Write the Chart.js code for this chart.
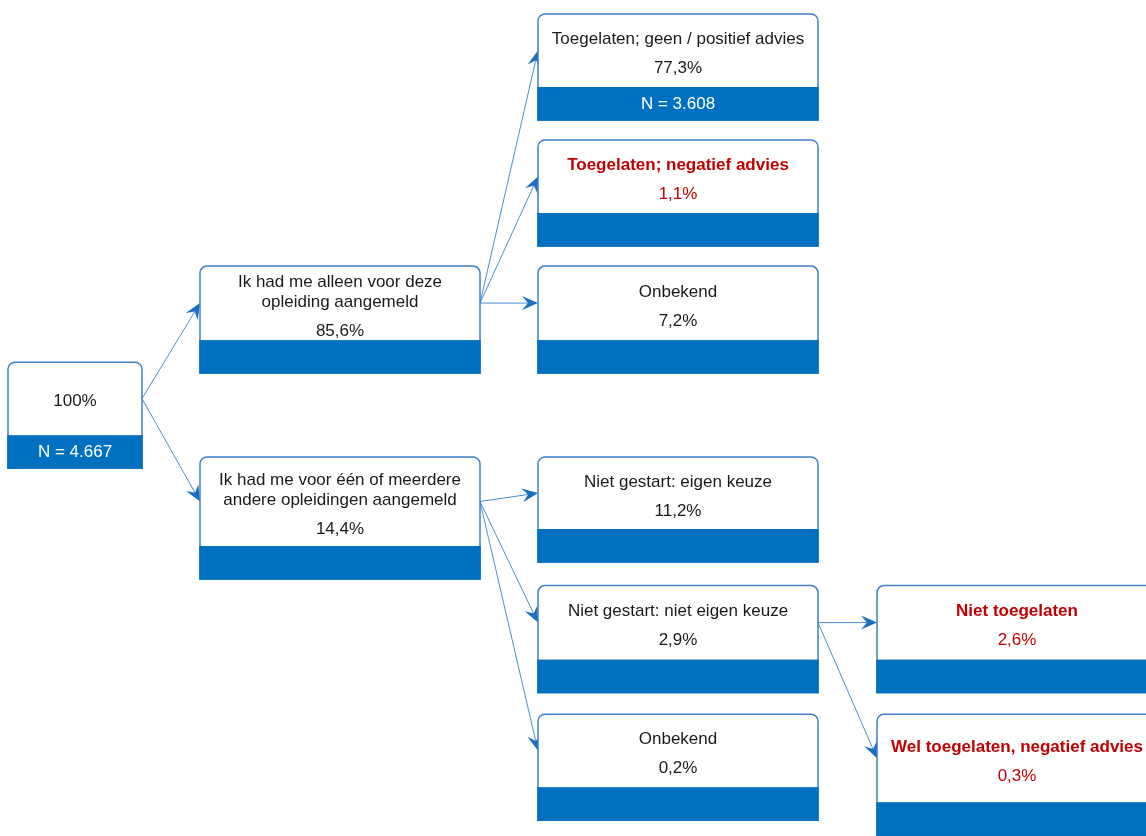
<!DOCTYPE html>
<html>
<head>
<meta charset="utf-8">
<script src="https://cdn.jsdelivr.net/npm/chart.js@4.4.1/dist/chart.umd.min.js"></script>
<style>
  html, body { margin: 0; padding: 0; background: #ffffff; }
  #wrap { width: 1146px; height: 836px; }
</style>
</head>
<body>
<div id="wrap"><canvas id="c" width="1146" height="836"></canvas></div>
<script>
// ---- data ----
const nodeLabels = [
  "",
  "Ik had me alleen voor deze\nopleiding aangemeld",
  "Ik had me voor één of meerdere\nandere opleidingen aangemeld",
  "Toegelaten; geen / positief advies",
  "Toegelaten; negatief advies",
  "Onbekend",
  "Niet gestart: eigen keuze",
  "Niet gestart: niet eigen keuze",
  "Onbekend",
  "Niet toegelaten",
  "Wel toegelaten, negatief advies"
];
const nodePercentages = ["100%", "85,6%", "14,4%", "77,3%", "1,1%", "7,2%", "11,2%", "2,9%", "0,2%", "2,6%", "0,3%"];
const nodeCounts = ["N = 4.667", "", "", "N = 3.608", "", "", "", "", "", "", ""];
const nodeParents = [null, 0, 0, 1, 1, 1, 2, 2, 2, 7, 7];
const nodeLevels = [0, 1, 1, 2, 2, 2, 2, 2, 2, 3, 3];
const nodeRows = [2.735, 1.98, 3.48, 0, 0.99, 1.98, 3.48, 4.49, 5.5, 4.49, 5.5];
const nodeNegative = [false, false, false, false, true, false, false, false, false, true, true];

// ---- layout / style (not data) ----
const layout = {
  colLeft: [8, 200, 538, 877],
  colWidth: [134, 280, 280, 280],
  bodyHeight: [73, 74, 89, 73, 73, 74, 72, 74, 73, 74, 88],
  bandHeight: 33,
  radius: 7,
  lineGap: 20,
  pctGap: 29
};
const colors = {
  border: '#3F7FCB',
  band: '#0070C0',
  line: '#4A8FD4',
  arrow: '#1B6EC2',
  text: '#1a1a1a',
  red: '#C00000'
};
const FONT = '"Liberation Sans", Arial, sans-serif';
const FSIZE = 17;

const points = nodeLevels.map((lv, i) => ({
  x: layout.colLeft[lv] + layout.colWidth[lv] / 2,
  y: nodeRows[i]
}));

function arrowHead(ctx, x1, y1, x2, y2) {
  const ang = Math.atan2(y2 - y1, x2 - x1);
  const L = 16, W = 7, notch = 10;
  ctx.save();
  ctx.translate(x2, y2);
  ctx.rotate(ang);
  ctx.beginPath();
  ctx.moveTo(0, 0);
  ctx.lineTo(-L, -W);
  ctx.lineTo(-notch, 0);
  ctx.lineTo(-L, W);
  ctx.closePath();
  ctx.fillStyle = colors.arrow;
  ctx.fill();
  ctx.restore();
}

const treePlugin = {
  id: 'tree',
  afterDatasetsDraw(chart) {
    const ctx = chart.ctx;
    const xs = chart.scales.x, ys = chart.scales.y;
    const boxes = points.map((p, i) => {
      const lv = nodeLevels[i];
      const w = layout.colWidth[lv];
      const cx = xs.getPixelForValue(p.x);
      const top = ys.getPixelForValue(p.y);
      const bh = layout.bodyHeight[i];
      return { left: cx - w / 2, right: cx + w / 2, top, body: bh, bottom: top + bh + layout.bandHeight, mid: top + bh / 2 };
    });

    // connectors
    nodeParents.forEach((par, i) => {
      if (par === null) return;
      const a = boxes[par], b = boxes[i];
      const x1 = a.right, y1 = a.mid, x2 = b.left, y2 = b.mid;
      ctx.save();
      ctx.strokeStyle = colors.line;
      ctx.lineWidth = 1;
      ctx.beginPath();
      ctx.moveTo(x1, y1);
      const ang = Math.atan2(y2 - y1, x2 - x1);
      ctx.lineTo(x2 - 10 * Math.cos(ang), y2 - 10 * Math.sin(ang));
      ctx.stroke();
      ctx.restore();
      arrowHead(ctx, x1, y1, x2, y2);
    });

    // boxes
    boxes.forEach((b, i) => {
      const r = layout.radius;
      ctx.save();
      ctx.beginPath();
      ctx.moveTo(b.left, b.bottom);
      ctx.lineTo(b.left, b.top + r);
      ctx.arcTo(b.left, b.top, b.left + r, b.top, r);
      ctx.lineTo(b.right - r, b.top);
      ctx.arcTo(b.right, b.top, b.right, b.top + r, r);
      ctx.lineTo(b.right, b.bottom);
      ctx.closePath();
      ctx.fillStyle = '#ffffff';
      ctx.fill();
      ctx.strokeStyle = colors.border;
      ctx.lineWidth = 1.5;
      ctx.stroke();
      ctx.fillStyle = colors.band;
      ctx.fillRect(b.left - 0.75, b.top + b.body, b.right - b.left + 1.5, layout.bandHeight + 0.75);

      const lines = nodeLabels[i] ? nodeLabels[i].split('\n') : [];
      const neg = nodeNegative[i];
      const blockH = lines.length ? (lines.length - 1) * layout.lineGap + layout.pctGap : 0;
      let y = b.mid + 3.5 - blockH / 2;
      const cx = (b.left + b.right) / 2;
      ctx.textAlign = 'center';
      ctx.textBaseline = 'middle';
      lines.forEach((ln, k) => {
        ctx.font = (neg ? 'bold ' : '') + FSIZE + 'px ' + FONT;
        ctx.fillStyle = neg ? colors.red : colors.text;
        ctx.fillText(ln, cx, y);
        y += (k < lines.length - 1) ? layout.lineGap : layout.pctGap;
      });
      ctx.font = FSIZE + 'px ' + FONT;
      ctx.fillStyle = neg ? colors.red : colors.text;
      ctx.fillText(nodePercentages[i], cx, lines.length ? y : b.mid + 2.5);
      if (nodeCounts[i]) {
        ctx.fillStyle = '#ffffff';
        ctx.font = FSIZE + 'px ' + FONT;
        ctx.fillText(nodeCounts[i], cx, b.top + b.body + layout.bandHeight / 2 + 1);
      }
      ctx.restore();
    });
  }
};

new Chart(document.getElementById('c'), {
  type: 'scatter',
  data: {
    datasets: [{
      data: points,
      pointRadius: 0,
      pointHoverRadius: 0,
      showLine: false
    }]
  },
  options: {
    responsive: false,
    animation: false,
    events: [],
    layout: { padding: 0 },
    plugins: { legend: { display: false }, tooltip: { enabled: false } },
    scales: {
      x: { type: 'linear', display: false, min: 0, max: 1146 },
      y: { type: 'linear', display: false, reverse: true, min: -0.11, max: 6.457 }
    }
  },
  plugins: [treePlugin]
});
</script>
</body>
</html>
